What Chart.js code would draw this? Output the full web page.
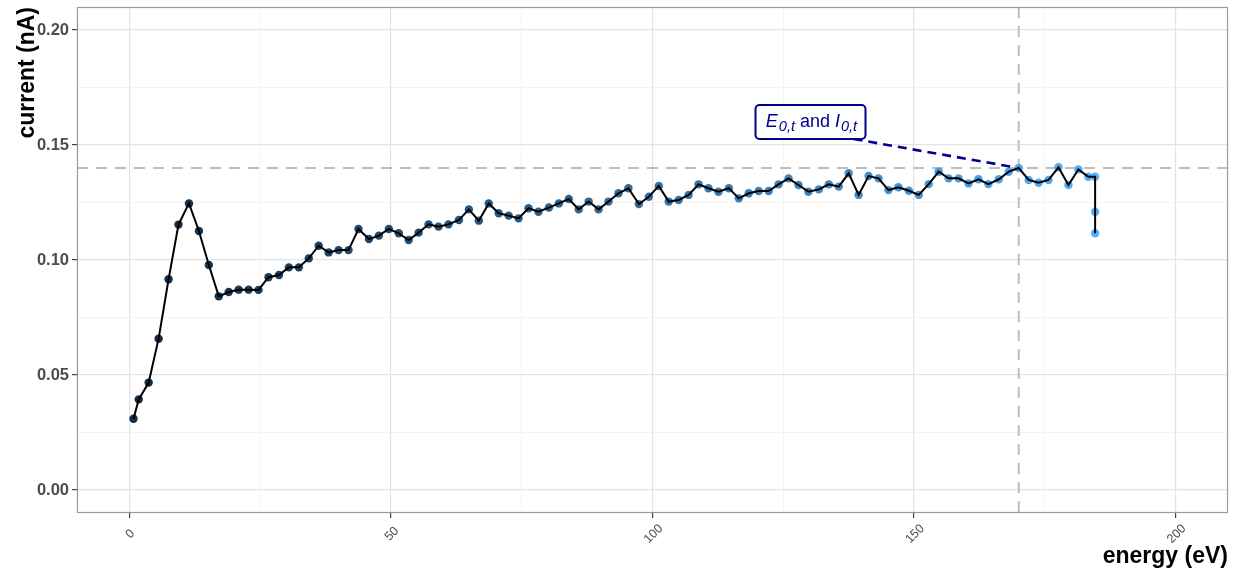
<!DOCTYPE html>
<html>
<head>
<meta charset="utf-8">
<title>current vs energy</title>
<script src="https://cdn.jsdelivr.net/npm/chart.js@4.4.1/dist/chart.umd.min.js"></script>
<style>
  html, body { margin: 0; padding: 0; background: #ffffff; }
  #wrap { width: 1236px; height: 571px; }
</style>
</head>
<body>
<div id="wrap"><canvas id="chart" width="1236" height="571"></canvas></div>
<script>
// Measured beam energy (eV) and collected current (nA)
const energy = [
  0.8, 1.8, 3.7, 5.6, 7.5, 9.4, 11.4, 13.3, 15.2, 17.1,
  19.0, 20.9, 22.8, 24.7, 26.6, 28.6, 30.5, 32.4, 34.3, 36.2,
  38.1, 40.0, 41.9, 43.8, 45.8, 47.7, 49.6, 51.5, 53.4, 55.3,
  57.2, 59.1, 61.0, 63.0, 64.9, 66.8, 68.7, 70.6, 72.5, 74.4,
  76.3, 78.2, 80.2, 82.1, 84.0, 85.9, 87.8, 89.7, 91.6, 93.5,
  95.4, 97.4, 99.3, 101.2, 103.1, 105.0, 106.9, 108.8, 110.7, 112.6,
  114.6, 116.5, 118.4, 120.3, 122.2, 124.1, 126.0, 127.9, 129.8, 131.8,
  133.7, 135.6, 137.5, 139.4, 141.3, 143.2, 145.1, 147.0, 149.0, 150.9,
  152.8, 154.7, 156.6, 158.5, 160.4, 162.3, 164.2, 166.2, 168.1, 170.0,
  171.9, 173.8, 175.7, 177.6, 179.5, 181.4, 183.3, 184.6, 184.6, 184.6
];
const current = [
  0.0310, 0.0394, 0.0467, 0.0658, 0.0916, 0.1154, 0.1246, 0.1126, 0.0978, 0.0842,
  0.0861, 0.0871, 0.0871, 0.0870, 0.0925, 0.0935, 0.0968, 0.0968, 0.1007, 0.1062,
  0.1033, 0.1043, 0.1043, 0.1135, 0.1091, 0.1106, 0.1135, 0.1116, 0.1087, 0.1119,
  0.1155, 0.1145, 0.1155, 0.1174, 0.1220, 0.1171, 0.1246, 0.1203, 0.1193, 0.1181,
  0.1225, 0.1210, 0.1228, 0.1246, 0.1265, 0.1220, 0.1254, 0.1220, 0.1254, 0.1290,
  0.1312, 0.1243, 0.1275, 0.1322, 0.1254, 0.1261, 0.1283, 0.1329, 0.1312, 0.1297,
  0.1312, 0.1268, 0.1290, 0.1300, 0.1300, 0.1329, 0.1355, 0.1326, 0.1297, 0.1307,
  0.1329, 0.1319, 0.1377, 0.1283, 0.1365, 0.1355, 0.1304, 0.1316, 0.1301, 0.1283,
  0.1330, 0.1384, 0.1355, 0.1355, 0.1333, 0.1351, 0.1330, 0.1351, 0.1384, 0.1400,
  0.1348, 0.1336, 0.1348, 0.1403, 0.1326, 0.1394, 0.1362, 0.1362, 0.1210, 0.1116
];

// Threshold point and its label
const thresholdEnergy = 170.0;
const thresholdCurrent = 0.140;
const labelAnchor = { x: 130.2, y: 0.160 };

// Axis ticks
const xTickLabels = [0, 50, 100, 150, 200];
const yTickLabels = [0.00, 0.05, 0.10, 0.15, 0.20];
const xTitle = 'energy (eV)';
const yTitle = 'current (nA)';

const FONT = '"Liberation Sans", Arial, Helvetica, sans-serif';

// --- colour gradient in CIE Lab (dark navy -> light blue) ---
function hexToRgb(h) {
  return [parseInt(h.slice(1, 3), 16), parseInt(h.slice(3, 5), 16), parseInt(h.slice(5, 7), 16)];
}
function toLin(c) { c /= 255; return c <= 0.04045 ? c / 12.92 : Math.pow((c + 0.055) / 1.055, 2.4); }
function fromLin(c) { const v = c <= 0.0031308 ? 12.92 * c : 1.055 * Math.pow(c, 1 / 2.4) - 0.055; return Math.max(0, Math.min(255, Math.round(v * 255))); }
const WN = [0.95047, 1.0, 1.08883];
function rgbToLab(rgb) {
  const [r, g, b] = rgb.map(toLin);
  const X = (0.4124 * r + 0.3576 * g + 0.1805 * b) / WN[0];
  const Y = (0.2126 * r + 0.7152 * g + 0.0722 * b) / WN[1];
  const Z = (0.0193 * r + 0.1192 * g + 0.9505 * b) / WN[2];
  const f = t => t > 0.008856 ? Math.cbrt(t) : 7.787 * t + 16 / 116;
  const fx = f(X), fy = f(Y), fz = f(Z);
  return [116 * fy - 16, 500 * (fx - fy), 200 * (fy - fz)];
}
function labToRgb(lab) {
  const fy = (lab[0] + 16) / 116, fx = fy + lab[1] / 500, fz = fy - lab[2] / 200;
  const inv = t => t * t * t > 0.008856 ? t * t * t : (t - 16 / 116) / 7.787;
  const X = inv(fx) * WN[0], Y = inv(fy) * WN[1], Z = inv(fz) * WN[2];
  const r = 3.2406 * X - 1.5372 * Y - 0.4986 * Z;
  const g = -0.9689 * X + 1.8758 * Y + 0.0415 * Z;
  const b = 0.0557 * X - 0.2040 * Y + 1.0570 * Z;
  return 'rgb(' + fromLin(r) + ',' + fromLin(g) + ',' + fromLin(b) + ')';
}
const labLow = rgbToLab(hexToRgb('#132B43'));
const labHigh = rgbToLab(hexToRgb('#56B1F7'));
const eMin = Math.min(...energy), eMax = Math.max(...energy);
const pointColors = energy.map(e => {
  const t = (e - eMin) / (eMax - eMin);
  return labToRgb(labLow.map((v, i) => v + (labHigh[i] - v) * t));
});

const points = energy.map((e, i) => ({ x: e, y: current[i] }));

const isMajorX = v => Math.abs(v % 50) < 1e-6;
const isMajorY = v => Math.abs(Math.round(v / 0.025)) % 2 === 0;

// --- drawing helpers for the panel decorations ---
const panelPlugin = {
  id: 'panelDecor',
  beforeDatasetsDraw(chart) {
    const { ctx, chartArea: a, scales: { x, y } } = chart;
    ctx.save();
    ctx.strokeStyle = '#BEBEBE';
    ctx.lineWidth = 2;
    ctx.setLineDash([11, 8]);
    const hy = y.getPixelForValue(thresholdCurrent);
    ctx.beginPath(); ctx.moveTo(a.left, hy); ctx.lineTo(a.right, hy); ctx.stroke();
    const vx = x.getPixelForValue(thresholdEnergy);
    ctx.beginPath(); ctx.moveTo(vx, a.top); ctx.lineTo(vx, a.bottom); ctx.stroke();
    ctx.restore();
  },
  afterDatasetsDraw(chart) {
    const { ctx, scales: { x, y } } = chart;
    const cx = x.getPixelForValue(labelAnchor.x);
    const cy = y.getPixelForValue(labelAnchor.y);
    const bw = 110, bh = 34;
    const bx = cx - bw / 2, by = cy - bh / 2;
    const navy = '#00008B';
    ctx.save();
    // connector from the label to the threshold point
    const px = x.getPixelForValue(thresholdEnergy);
    const py = y.getPixelForValue(thresholdCurrent);
    const sx = bx + bw - 12, sy = by + bh;
    const len = Math.hypot(px - sx, py - sy);
    const ex = px - (px - sx) / len * 3, ey = py - (py - sy) / len * 3;
    ctx.strokeStyle = navy;
    ctx.lineWidth = 2.6;
    ctx.setLineDash([9, 6]);
    ctx.beginPath(); ctx.moveTo(sx, sy); ctx.lineTo(ex, ey); ctx.stroke();
    ctx.setLineDash([]);
    // label box
    ctx.fillStyle = '#ffffff';
    ctx.lineWidth = 2;
    ctx.beginPath();
    ctx.roundRect(bx, by, bw, bh, 4);
    ctx.fill(); ctx.stroke();
    // label text: E_{0,t} and I_{0,t}
    const parts = [
      { t: 'E', f: 'italic 18px ' + FONT, dy: 0 },
      { t: '0,t', f: 'italic 14.5px ' + FONT, dy: 4 },
      { t: ' and ', f: '18px ' + FONT, dy: 0 },
      { t: 'I', f: 'italic 18px ' + FONT, dy: 0 },
      { t: '0,t', f: 'italic 14.5px ' + FONT, dy: 4 }
    ];
    let total = 0;
    parts.forEach(p => { ctx.font = p.f; p.w = ctx.measureText(p.t).width; total += p.w; });
    let tx = cx - total / 2;
    const base = cy + 5;
    ctx.fillStyle = navy;
    ctx.textBaseline = 'alphabetic';
    ctx.textAlign = 'left';
    parts.forEach(p => { ctx.font = p.f; ctx.fillText(p.t, tx, base + p.dy); tx += p.w + (p.t === 'E' || p.t === 'I' ? 1 : 0); });
    ctx.restore();
  },
  afterDraw(chart) {
    const { ctx, chartArea: a, scales: { x } } = chart;
    ctx.save();
    // panel border
    ctx.strokeStyle = '#9A9A9A';
    ctx.lineWidth = 1.2;
    ctx.strokeRect(a.left + 0.5, a.top + 0.5, a.right - a.left - 1, a.bottom - a.top - 1);
    // rotated x tick labels
    ctx.fillStyle = '#4D4D4D';
    ctx.font = '12.5px ' + FONT;
    ctx.textAlign = 'center';
    ctx.textBaseline = 'middle';
    xTickLabels.forEach(v => {
      const tx = x.getPixelForValue(v) + 1;
      ctx.save();
      ctx.translate(tx, a.bottom + 21);
      ctx.rotate(-Math.PI / 4);
      ctx.fillText(String(v), 0, 0);
      ctx.restore();
    });
    // axis titles
    ctx.fillStyle = '#000000';
    ctx.font = 'bold 23px ' + FONT;
    ctx.textAlign = 'right';
    ctx.textBaseline = 'alphabetic';
    ctx.fillText(xTitle, a.right, 563);
    ctx.save();
    ctx.translate(34, a.top);
    ctx.rotate(-Math.PI / 2);
    ctx.textAlign = 'right';
    ctx.fillText(yTitle, 0, 0);
    ctx.restore();
    ctx.restore();
  }
};

new Chart(document.getElementById('chart'), {
  type: 'scatter',
  data: {
    datasets: [
      {
        type: 'line',
        data: points,
        borderColor: '#000000',
        borderWidth: 2,
        pointRadius: 0,
        tension: 0,
        fill: false
      },
      {
        type: 'scatter',
        data: points,
        pointBackgroundColor: pointColors,
        pointBorderWidth: 0,
        pointRadius: 4.2
      }
    ]
  },
  options: {
    responsive: false,
    animation: false,
    devicePixelRatio: 1,
    layout: { padding: { top: 7, right: 8, bottom: 0, left: 0 } },
    plugins: { legend: { display: false }, tooltip: { enabled: false } },
    scales: {
      x: {
        type: 'linear',
        min: -10,
        max: 210,
        border: { display: false },
        ticks: { display: false, stepSize: 25, includeBounds: false },
        grid: {
          color: c => isMajorX(c.tick.value) ? '#E3E3E3' : '#F0F0F0',
          lineWidth: c => isMajorX(c.tick.value) ? 1.2 : 0.8,
          drawTicks: true,
          tickLength: 5,
          tickColor: c => isMajorX(c.tick.value) ? '#444444' : 'rgba(0,0,0,0)',
          tickWidth: 1.2
        },
        afterFit(s) { s.height = 58; s.paddingLeft = 0; s.paddingRight = 0; }
      },
      y: {
        type: 'linear',
        min: -0.01,
        max: 0.21,
        border: { display: false },
        ticks: {
          stepSize: 0.025,
          includeBounds: false,
          padding: 3,
          color: '#4D4D4D',
          font: { family: FONT, size: 16.5, weight: 'bold' },
          callback: v => {
            if (!isMajorY(v)) return '';
            const m = yTickLabels.find(t => Math.abs(t - v) < 1e-6);
            return m === undefined ? '' : m.toFixed(2);
          }
        },
        grid: {
          color: c => isMajorY(c.tick.value) ? '#E3E3E3' : '#F0F0F0',
          lineWidth: c => isMajorY(c.tick.value) ? 1.2 : 0.8,
          drawTicks: true,
          tickLength: 5,
          tickColor: c => isMajorY(c.tick.value) ? '#444444' : 'rgba(0,0,0,0)',
          tickWidth: 1.2
        },
        afterFit(s) { s.width = 77; s.paddingTop = 0; s.paddingBottom = 0; }
      }
    }
  },
  plugins: [panelPlugin]
});
</script>
</body>
</html>
